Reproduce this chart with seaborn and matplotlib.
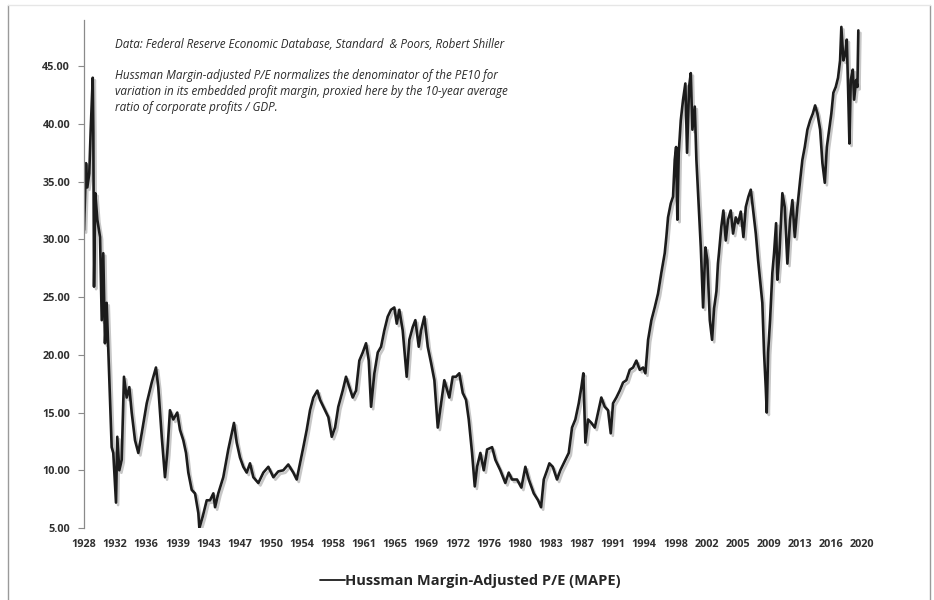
import numpy as np
import pandas as pd
import matplotlib
matplotlib.use("Agg")
import matplotlib.pyplot as plt
import matplotlib.patheffects as pe
from matplotlib.lines import Line2D
import seaborn as sns

sns.set_theme(style="white")
plt.rcParams["font.family"] = ["Open Sans", "DejaVu Sans"]

# Hussman MAPE (decimal year, value)
years = [
    1928.92, 1929.16, 1929.31, 1929.54, 1929.71, 1929.95, 1930.02, 1930.10, 1930.25, 1930.49,
    1930.81, 1931.01, 1931.19, 1931.39, 1931.59, 1931.90, 1932.18, 1932.37, 1932.69, 1932.84,
    1933.08, 1933.36, 1933.63, 1933.95, 1934.26, 1934.54, 1934.93, 1935.32, 1935.72, 1936.31,
    1936.90, 1937.40, 1937.67, 1938.08, 1938.46, 1938.73, 1939.05, 1939.44, 1939.91, 1940.23,
    1940.62, 1940.94, 1941.21, 1941.61, 1942.00, 1942.39, 1942.51, 1942.91, 1943.38, 1943.77,
    1944.16, 1944.36, 1944.74, 1945.33, 1945.92, 1946.32, 1946.59, 1946.91, 1947.30, 1947.69,
    1948.09, 1948.48, 1948.87, 1949.46, 1950.05, 1950.64, 1951.23, 1951.81, 1952.40, 1952.99,
    1953.58, 1953.98, 1954.37, 1954.76, 1955.16, 1955.55, 1955.94, 1956.41, 1956.73, 1957.12,
    1957.71, 1958.11, 1958.50, 1958.88, 1959.40, 1959.79, 1960.18, 1960.58, 1960.97, 1961.36,
    1961.76, 1962.15, 1962.47, 1962.74, 1963.13, 1963.53, 1963.92, 1964.30, 1964.70, 1965.09,
    1965.48, 1965.77, 1966.07, 1966.47, 1966.94, 1967.25, 1967.65, 1967.96, 1968.36, 1968.63,
    1969.02, 1969.42, 1969.81, 1970.20, 1970.60, 1970.99, 1971.37, 1971.96, 1972.36, 1972.75,
    1973.14, 1973.54, 1973.93, 1974.25, 1974.64, 1974.96, 1975.23, 1975.62, 1976.02, 1976.41,
    1977.00, 1977.39, 1977.97, 1978.56, 1978.96, 1979.35, 1979.94, 1980.45, 1980.92, 1981.32,
    1981.91, 1982.42, 1982.77, 1983.09, 1983.48, 1983.75, 1984.15, 1984.65, 1985.04, 1985.63,
    1986.03, 1986.42, 1986.81, 1987.21, 1987.52, 1987.75, 1987.99, 1988.31, 1988.70, 1989.10,
    1989.49, 1989.87, 1990.27, 1990.66, 1990.98, 1991.25, 1991.64, 1992.04, 1992.43, 1992.82,
    1993.22, 1993.61, 1994.00, 1994.40, 1994.79, 1995.06, 1995.38, 1995.77, 1996.16, 1996.55,
    1996.94, 1997.34, 1997.53, 1997.73, 1998.05, 1998.32, 1998.52, 1998.68, 1998.83, 1998.99,
    1999.23, 1999.50, 1999.77, 1999.97, 2000.21, 2000.41, 2000.60, 2000.88, 2001.07, 2001.35,
    2001.59, 2001.86, 2002.13, 2002.36, 2002.65, 2002.92, 2003.15, 2003.43, 2003.61, 2003.73,
    2004.01, 2004.25, 2004.53, 2004.80, 2005.12, 2005.39, 2005.71, 2005.98, 2006.30, 2006.61,
    2006.89, 2007.20, 2007.48, 2007.79, 2008.07, 2008.34, 2008.57, 2008.84, 2009.04, 2009.24,
    2009.36, 2009.52, 2009.75, 2010.02, 2010.22, 2010.46, 2010.61, 2010.85, 2011.20, 2011.48,
    2011.79, 2012.11, 2012.38, 2012.66, 2012.97, 2013.29, 2013.56, 2013.84, 2014.15, 2014.47,
    2014.79, 2015.06, 2015.33, 2015.65, 2015.92, 2016.20, 2016.44, 2016.71, 2016.97, 2017.21,
    2017.49, 2017.76, 2018.00, 2018.15, 2018.39, 2018.62, 2018.79, 2018.94, 2019.10, 2019.26,
    2019.50, 2019.65, 2019.89, 2020.04, 2020.15,
]
mape = [
    30.8, 36.6, 34.5, 35.7, 39.5, 44.0, 39.2, 25.9, 34.0, 31.7,
    30.2, 23.0, 28.8, 21.0, 24.5, 17.8, 12.0, 11.5, 7.2, 12.9,
    10.0, 10.9, 18.1, 16.3, 17.2, 15.0, 12.6, 11.5, 13.2, 15.8,
    17.6, 18.9, 17.2, 12.9, 9.4, 11.5, 15.2, 14.4, 15.0, 13.5,
    12.6, 11.5, 9.8, 8.3, 8.0, 6.3, 5.0, 6.0, 7.4, 7.4,
    8.0, 6.8, 8.0, 9.4, 11.8, 13.2, 14.1, 12.4, 11.1, 10.3,
    9.8, 10.6, 9.4, 8.9, 9.8, 10.3, 9.4, 9.9, 10.0, 10.5,
    9.8, 9.2, 10.6, 12.0, 13.5, 15.2, 16.3, 16.9, 16.1, 15.5,
    14.6, 12.9, 13.7, 15.5, 16.9, 18.1, 17.2, 16.3, 16.9, 19.5,
    20.2, 21.0, 19.5, 15.5, 18.4, 20.2, 20.7, 22.1, 23.3, 23.9,
    24.1, 22.7, 23.9, 22.1, 18.1, 21.3, 22.4, 23.0, 20.7, 22.1,
    23.3, 20.7, 19.3, 17.8, 13.7, 15.8, 17.8, 16.3, 18.1, 18.1,
    18.4, 16.7, 16.1, 14.4, 11.5, 8.6, 10.3, 11.5, 10.0, 11.8,
    12.0, 10.9, 10.0, 8.9, 9.8, 9.2, 9.2, 8.5, 10.3, 9.2,
    8.0, 7.4, 6.8, 9.2, 10.0, 10.6, 10.3, 9.2, 10.0, 10.9,
    11.5, 13.7, 14.4, 15.8, 17.2, 18.4, 12.4, 14.4, 14.1, 13.7,
    15.0, 16.3, 15.5, 15.2, 13.2, 15.8, 16.3, 16.9, 17.6, 17.8,
    18.7, 18.9, 19.5, 18.7, 18.9, 18.4, 21.3, 23.0, 24.1, 25.3,
    27.1, 28.8, 30.2, 31.9, 33.1, 33.7, 36.9, 38.0, 31.7, 37.5,
    40.3, 42.1, 43.5, 37.5, 43.2, 44.4, 39.5, 41.5, 36.9, 32.8,
    29.3, 24.1, 29.3, 28.2, 23.0, 21.3, 24.0, 25.5, 27.9, 28.8,
    31.1, 32.5, 29.9, 31.7, 32.5, 30.5, 31.9, 31.4, 32.4, 30.2,
    32.8, 33.7, 34.3, 32.3, 30.5, 28.2, 26.5, 24.5, 20.2, 17.2,
    15.0, 20.2, 23.0, 27.1, 28.8, 31.4, 26.5, 28.8, 34.0, 32.8,
    27.9, 31.7, 33.4, 30.2, 32.8, 35.1, 36.9, 38.0, 39.5, 40.3,
    40.9, 41.6, 40.9, 39.5, 36.6, 34.9, 38.0, 39.5, 40.9, 42.7,
    43.2, 44.0, 45.5, 48.4, 45.5, 46.1, 47.3, 43.2, 38.3, 43.8,
    44.7, 42.1, 43.8, 43.2, 48.1,
]

# Excel category axis: one label every 44 months from Dec 1928
tick_labels = ["1928", "1932", "1936", "1939", "1943", "1947", "1950", "1954", "1958",
               "1961", "1965", "1969", "1972", "1976", "1980", "1983", "1987", "1991",
               "1994", "1998", "2002", "2005", "2009", "2013", "2016", "2020"]
y_ticks = [5, 10, 15, 20, 25, 30, 35, 40, 45]

series_name = "Hussman Margin-Adjusted P/E (MAPE)"
note_source = "Data: Federal Reserve Economic Database, Standard  & Poors, Robert Shiller"
note_body = ("Hussman Margin-adjusted P/E normalizes the denominator of the PE10 for\n"
             "variation in its embedded profit margin, proxied here by the 10-year average\n"
             "ratio of corporate profits / GDP.")

df = pd.DataFrame({"year": years, "mape": mape})

W, H = 934, 600
fig = plt.figure(figsize=(W / 100, H / 100), dpi=100)
ax = fig.add_axes([84 / W, 1 - 528 / H, 779 / W, 508 / H])

sns.lineplot(data=df, x="year", y="mape", ax=ax, color="#1c1c1c", linewidth=1.9,
             legend=False,
             path_effects=[pe.SimpleLineShadow(offset=(1.5, -1.8), shadow_color="#000000", alpha=0.22),
                           pe.Normal()])

ax.set_xlim(1928.92, 2020.70)
ax.set_ylim(5, 49)
ax.set_xlabel("")
ax.set_ylabel("")

tick_pos = [1928.92 + i * 44 / 12 for i in range(len(tick_labels))]
ax.set_xticks(tick_pos)
ax.set_xticklabels(tick_labels)
ax.set_yticks(y_ticks)
ax.set_yticklabels([f"{v:.2f}" for v in y_ticks])
ax.tick_params(axis="x", length=0, pad=8, labelsize=7.8, labelcolor="#303030")
ax.tick_params(axis="y", left=True, length=4, width=0.8, color="#8a8a8a", pad=6,
               labelsize=7.8, labelcolor="#303030")
for lbl in ax.get_xticklabels() + ax.get_yticklabels():
    lbl.set_fontweight("bold")

for s in ["top", "right", "bottom"]:
    ax.spines[s].set_visible(False)
ax.spines["left"].set_color("#8a8a8a")
ax.spines["left"].set_linewidth(0.9)
ax.grid(False)

fig.text(115 / W, 1 - 45 / H, note_source, fontsize=8.4, style="italic", color="#2a2a2a",
         va="center", ha="left")
fig.text(115 / W, 1 - 69 / H, note_body, fontsize=8.4, style="italic", color="#2a2a2a",
         va="top", ha="left", linespacing=1.3)

handle = Line2D([], [], color="#1c1c1c", linewidth=1.3)
fig.legend([handle], [series_name], loc="center", bbox_to_anchor=(470 / W, 1 - 581 / H),
           frameon=False, handlelength=1.7, handletextpad=0.0,
           prop={"weight": "bold", "size": 10.5})

# light frame round the chart area like the original export
fig.add_artist(Line2D([7.5 / W, 7.5 / W], [0, 1 - 5 / H], color="#9a9a9a", linewidth=1.0))
fig.add_artist(Line2D([930 / W, 930 / W], [0, 1 - 5 / H], color="#9a9a9a", linewidth=1.0))
fig.add_artist(Line2D([7.5 / W, 930 / W], [1 - 5 / H, 1 - 5 / H], color="#e6e6e6", linewidth=1.0))

fig.savefig("out.png", dpi=100)
